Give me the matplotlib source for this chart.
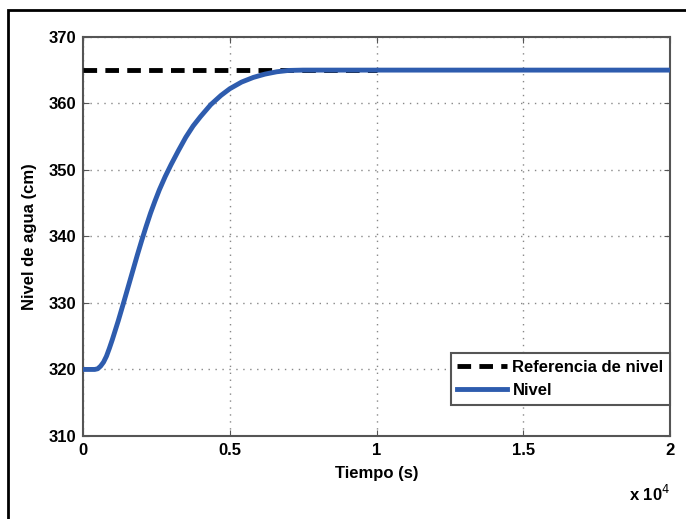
import numpy as np
import matplotlib.pyplot as plt
from matplotlib.patches import Rectangle
from matplotlib.ticker import FuncFormatter

plt.rcParams['font.family'] = ['Liberation Sans', 'DejaVu Sans']

# tank level response (s, cm)
tiempo = np.array([0, 400, 500, 600, 700, 800, 900, 1000, 1100, 1200, 1300, 1400,
                   1550, 1700, 1850, 2000, 2150, 2300, 2450, 2600, 2800, 3000,
                   3250, 3500, 3750, 4000, 4350, 4700, 5000, 5400, 5800, 6200,
                   6600, 7000, 7500, 10000, 15000, 20000])
nivel = np.array([320, 320, 320.1, 320.5, 321.1, 322.0, 323.2, 324.5, 325.9, 327.3, 328.8, 330.3,
                  332.6, 334.9, 337.2, 339.4, 341.5, 343.5, 345.3, 347.0, 349.0, 350.8,
                  352.9, 354.9, 356.6, 358.0, 359.8, 361.2, 362.2, 363.2, 363.9, 364.4,
                  364.75, 364.95, 365, 365, 365, 365])
referencia = 365

fig = plt.figure(figsize=(6.86, 5.19), dpi=100)
ax = fig.add_axes([0.121, 0.160, 0.856, 0.769])

ax.plot([0, 10000], [referencia, referencia], color='black', linestyle=(0, (2.8, 1.7)),
        linewidth=3.5, label='Referencia de nivel', zorder=3)
ax.plot(tiempo, nivel, color='#2e5cae', linewidth=3.5, label='Nivel', zorder=4,
        solid_joinstyle='round')

ax.set_xlim(0, 20000)
ax.set_ylim(310, 370)
ax.set_xticks([0, 5000, 10000, 15000, 20000])
ax.set_yticks(np.arange(310, 371, 10))
ax.xaxis.set_major_formatter(FuncFormatter(lambda v, p: f'{v / 1e4:g}'))
ax.grid(True, linestyle=(0, (1, 4)), color='#888888', linewidth=1)
ax.tick_params(direction='in', top=True, right=True, length=4, color='#555555',
               labelsize=12, pad=5)
for lbl in ax.get_xticklabels() + ax.get_yticklabels():
    lbl.set_fontweight('bold')
for s in ax.spines.values():
    s.set_color('#555555')
    s.set_linewidth(1.5)

ax.set_xlabel('Tiempo (s)', fontsize=12, fontweight='bold', labelpad=6)
ax.set_ylabel('Nivel de agua (cm)', fontsize=12, fontweight='bold', labelpad=8)
ax.text(1.0, -0.145, r'x 10$^{4}$', transform=ax.transAxes, ha='right', va='center',
        fontsize=12, fontweight='bold')

leg = ax.legend(loc='lower right', bbox_to_anchor=(1.0, 0.078), borderaxespad=0,
                fancybox=False, framealpha=1, edgecolor='#555555', handlelength=3.0,
                handletextpad=0.3, prop={'size': 12, 'weight': 'bold'})
leg.get_frame().set_linewidth(1.5)

# outer frame
fig.patches.append(Rectangle((8 / 686, -0.05), 1.0, 1.05 - 10 / 519, transform=fig.transFigure,
                             fill=False, edgecolor='black', linewidth=2))

fig.savefig('out.png', dpi=100)
